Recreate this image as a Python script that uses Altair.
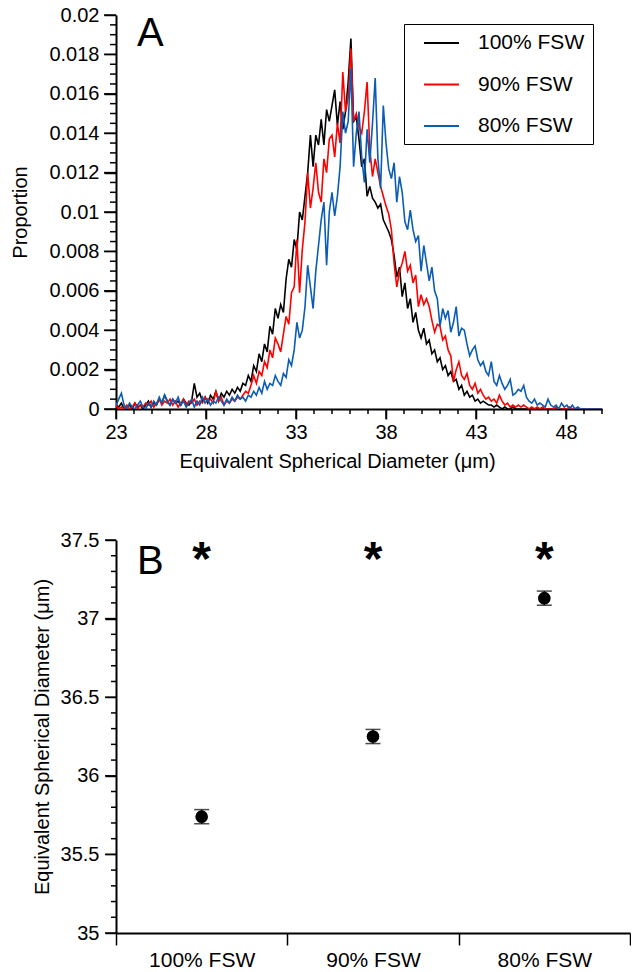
import altair as alt
import pandas as pd

FONT = "Liberation Sans"

# ---------------- Panel A data: size distributions (proportion, in units of 1e-4)
diam_start = 23.0
diam_step = 0.15

prop_100 = [
    2, 1, 3, 0, 1, 2, 0, 3, 1, 2,
    0, 2, 4, 1, 3, 2, 5, 3, 7, 4,
    2, 5, 3, 4, 2, 5, 3, 2, 4, 13,
    6, 8, 4, 6, 3, 7, 5, 9, 4, 8,
    6, 9, 7, 10, 8, 11, 9, 13, 12, 17,
    14, 22, 19, 28, 24, 33, 29, 42, 38, 51,
    46, 53, 49, 66, 76, 72, 86, 81, 100, 96,
    108, 120, 139, 123, 139, 134, 147, 134, 152, 146,
    154, 162, 144, 156, 142, 151, 166, 188, 146, 148,
    137, 123, 127, 108, 113, 107, 105, 102, 104, 96,
    93, 90, 86, 78, 67, 72, 57, 64, 51, 56,
    44, 49, 40, 36, 41, 33, 35, 28, 30, 24,
    26, 20, 22, 17, 19, 14, 15, 10, 12, 7,
    9, 6, 7, 4, 5, 3, 4, 3, 2, 2,
    1, 2, 1, 0, 1, 0, 0, 1, 0, 0,
    0, 0, 0, 0, 0, 0, 0, 0, 0, 0,
    0, 0, 0, 0, 0, 0, 0, 0, 0, 0,
    0, 0, 0, 0, 0, 0, 0, 0, 0, 0, 0,
]

prop_90 = [
    2, 0, 1, 0, 2, 0, 1, 3, 0, 2,
    1, 3, 2, 4, 1, 3, 5, 2, 4, 3,
    5, 2, 4, 1, 3, 5, 2, 4, 3, 5,
    2, 4, 3, 6, 4, 5, 3, 9, 4, 6,
    2, 4, 3, 5, 4, 6, 5, 7, 9, 8,
    12, 17, 13, 19, 17, 24, 21, 30, 26, 36,
    33, 29, 38, 47, 43, 59, 62, 86, 59, 81,
    95, 120, 102, 112, 125, 110, 105, 127, 120, 137,
    139, 128, 145, 135, 171, 151, 158, 183, 146, 150,
    143, 140, 151, 166, 132, 118, 127, 120, 113, 108,
    103, 99, 91, 74, 62, 70, 74, 80, 70, 73,
    64, 68, 52, 58, 53, 56, 52, 45, 39, 43,
    42, 35, 37, 30, 27, 14, 20, 24, 17, 15,
    18, 12, 10, 13, 8, 10, 7, 5, 6, 4,
    5, 3, 7, 4, 2, 3, 1, 2, 1, 2,
    1, 2, 1, 0, 1, 0, 1, 0, 1, 0,
    0, 0, 0, 1, 0, 0, 0, 0, 1, 0,
    0, 0, 0, 0, 0, 0, 0, 0, 0, 0, 0,
]

prop_80 = [
    2, 5, 8, 2, 0, 3, 1, 0, 2, 4,
    1, 0, 3, 1, 4, 2, 6, 3, 7, 4,
    2, 5, 3, 6, 2, 4, 1, 3, 5, 1,
    4, 2, 6, 3, 5, 2, 4, 3, 6, 4,
    2, 5, 3, 6, 4, 7, 5, 6, 4, 7,
    6, 9, 7, 11, 8, 14, 10, 13, 12, 17,
    14, 12, 18, 16, 25, 22, 30, 44, 36, 40,
    52, 73, 62, 51, 70, 83, 96, 105, 73, 100,
    110, 98, 108, 123, 151, 140, 146, 173, 123, 140,
    151, 128, 115, 142, 125, 145, 168, 127, 112, 154,
    135, 122, 117, 125, 105, 118, 110, 95, 91, 101,
    91, 85, 88, 70, 83, 74, 65, 72, 60, 56,
    42, 51, 46, 50, 39, 44, 52, 37, 41, 40,
    33, 27, 30, 32, 25, 22, 24, 19, 17, 24,
    14, 12, 17, 13, 10, 12, 15, 7, 8, 10,
    9, 12, 6, 4, 3, 5, 2, 3, 2, 1,
    5, 2, 1, 2, 0, 3, 1, 2, 0, 2,
    0, 1, 0, 0, 0, 0, 0, 0, 0, 0, 0,
]

series_names = ["100% FSW", "90% FSW", "80% FSW"]
series_colors = ["#000000", "#ff0000", "#0b5cb5"]

# ---------------- Panel B data: mean ESD with error
groups = ["100% FSW", "90% FSW", "80% FSW"]
esd_mean = [35.74, 36.25, 37.13]
esd_err = [0.045, 0.045, 0.045]
sig_marks = ["*", "*", "*"]
sig_y = [37.28, 37.28, 37.28]

# ---------------- build tables
rows = []
for name, vals in zip(series_names, [prop_100, prop_90, prop_80]):
    for i, v in enumerate(vals):
        rows.append({"series": name,
                     "d": round(diam_start + diam_step * i, 3),
                     "p": v / 10000.0})
dfA = pd.DataFrame(rows)

dfB = pd.DataFrame({"group": groups, "mean": esd_mean, "err": esd_err,
                    "sig": sig_marks, "sig_y": sig_y})
dfB["lo"] = dfB["mean"] - dfB["err"]
dfB["hi"] = dfB["mean"] + dfB["err"]

# ---------------- axis tick positions
xA_major = list(range(23, 50, 5))
xA_minor = [v for v in range(23, 51) if v not in xA_major]
yA_major = [round(i * 0.002, 3) for i in range(11)]
yA_minor = [round(i * 0.0005, 4) for i in range(41) if i % 4 != 0]
yB_major = [round(35 + 0.5 * i, 1) for i in range(6)]
yB_minor = [round(35 + 0.1 * i, 1) for i in range(26) if i % 5 != 0]

xA_scale = alt.Scale(domain=[23, 50], nice=False, zero=False)
yA_scale = alt.Scale(domain=[0, 0.02], nice=False)
yB_scale = alt.Scale(domain=[35, 37.5], nice=False, zero=False)

xA_axis = alt.Axis(orient="bottom", values=xA_major, tickSize=10, ticks=True,
                   tickColor="black", labelFlush=False, labelPadding=3,
                   title="Equivalent Spherical Diameter (μm)",
                   titleX=221, titlePadding=9)
yA_axis = alt.Axis(orient="left", values=yA_major, tickSize=12, ticks=True,
                   tickColor="black", format="~g", labelPadding=5,
                   title="Proportion", titlePadding=18)

# ---------------- Panel A
H_A = 394
W_A = 486
lines = alt.Chart(dfA).mark_line(strokeWidth=1.6, clip=True).encode(
    x=alt.X("d:Q", scale=xA_scale, axis=xA_axis),
    y=alt.Y("p:Q", scale=yA_scale, axis=yA_axis),
    color=alt.Color("series:N",
                    scale=alt.Scale(domain=series_names, range=series_colors),
                    legend=alt.Legend(title=None, orient="none", legendX=288, legendY=9,
                                      strokeColor="black", fillColor="white",
                                      padding=8, rowPadding=20.5,
                                      symbolType="M0.1,0H3.6", symbolSize=400,
                                      symbolStrokeWidth=2, symbolFillColor="transparent",
                                      labelFont=FONT, labelFontSize=21, labelColor="black",
                                      labelOffset=44)),
    detail="series:N",
)

tick_style = dict(color="black", strokeWidth=1.5)
yA_maj_t = alt.Chart(pd.DataFrame({"v": yA_major})).mark_rule(**tick_style).encode(
    y=alt.Y("v:Q", scale=yA_scale, axis=yA_axis), x=alt.value(0), x2=alt.value(-12))
yA_min_t = alt.Chart(pd.DataFrame({"v": yA_minor})).mark_rule(**tick_style).encode(
    y=alt.Y("v:Q", scale=yA_scale, axis=yA_axis), x=alt.value(0), x2=alt.value(-6))
xA_maj_t = alt.Chart(pd.DataFrame({"v": xA_major})).mark_rule(**tick_style).encode(
    x=alt.X("v:Q", scale=xA_scale, axis=xA_axis), y=alt.value(H_A), y2=alt.value(H_A + 10))
xA_min_t = alt.Chart(pd.DataFrame({"v": xA_minor})).mark_rule(**tick_style).encode(
    x=alt.X("v:Q", scale=xA_scale, axis=xA_axis), y=alt.value(H_A), y2=alt.value(H_A + 5))

letterA = alt.Chart(pd.DataFrame({"lab": ["A"]})).mark_text(
    font=FONT, fontSize=40, align="left", baseline="alphabetic", color="black"
).encode(x=alt.value(21), y=alt.value(31), text="lab:N")

panelA = alt.layer(lines, yA_maj_t, yA_min_t, xA_maj_t, xA_min_t, letterA).properties(
    width=W_A, height=H_A)

# ---------------- Panel B
xB = alt.X("group:N", sort=groups,
           scale=alt.Scale(type="band", paddingInner=0, paddingOuter=0),
           axis=alt.Axis(tickBand="extent", labelAngle=0, title=None, tickSize=12,
                         labelFontSize=21, labelPadding=4))
yB_axis = alt.Axis(orient="left", values=yB_major, format="~g", tickSize=11, ticks=True,
                   tickColor="black", labelPadding=6,
                   title="Equivalent Spherical Diameter (μm)", titlePadding=8)

baseB = alt.Chart(dfB)
bars = baseB.mark_rule(color="black", strokeWidth=1.5).encode(
    x=xB, y=alt.Y("lo:Q", scale=yB_scale, axis=yB_axis), y2="hi:Q")
cap_lo = baseB.mark_tick(color="black", orient="horizontal", size=15, thickness=1.5).encode(
    x=xB, y=alt.Y("lo:Q", scale=yB_scale, axis=yB_axis))
cap_hi = baseB.mark_tick(color="black", orient="horizontal", size=15, thickness=1.5).encode(
    x=xB, y=alt.Y("hi:Q", scale=yB_scale, axis=yB_axis))
pts = baseB.mark_point(filled=True, shape="circle", size=160, color="black", opacity=1).encode(
    x=xB, y=alt.Y("mean:Q", scale=yB_scale, axis=yB_axis))
stars = baseB.mark_text(font=FONT, fontSize=48, fontWeight="bold", color="black",
                        align="center", baseline="alphabetic").encode(
    x=xB, y=alt.Y("sig_y:Q", scale=yB_scale, axis=yB_axis), text="sig:N")

yB_maj_t = alt.Chart(pd.DataFrame({"v": yB_major})).mark_rule(**tick_style).encode(
    y=alt.Y("v:Q", scale=yB_scale, axis=yB_axis), x=alt.value(0), x2=alt.value(-11))
yB_min_t = alt.Chart(pd.DataFrame({"v": yB_minor})).mark_rule(**tick_style).encode(
    y=alt.Y("v:Q", scale=yB_scale, axis=yB_axis), x=alt.value(0), x2=alt.value(-5))

letterB = alt.Chart(pd.DataFrame({"lab": ["B"]})).mark_text(
    font=FONT, fontSize=40, align="left", baseline="alphabetic", color="black"
).encode(x=alt.value(21), y=alt.value(34), text="lab:N")

panelB = alt.layer(bars, cap_lo, cap_hi, pts, stars, yB_maj_t, yB_min_t, letterB).properties(
    width=514, height=393)

chart = alt.vconcat(panelA, panelB, spacing=59).properties(
    padding={"left": 10, "top": 5, "right": 0, "bottom": 0},
    background="white",
).configure_view(strokeWidth=0).configure_axis(
    grid=False,
    labelFont=FONT, titleFont=FONT, labelFontSize=20, titleFontSize=20,
    titleFontWeight="normal", labelColor="black", titleColor="black",
    domainColor="black", tickColor="black", domainWidth=2, tickWidth=1.5,
)

chart.save("out.html", embed_options={"renderer": "svg", "actions": False})
